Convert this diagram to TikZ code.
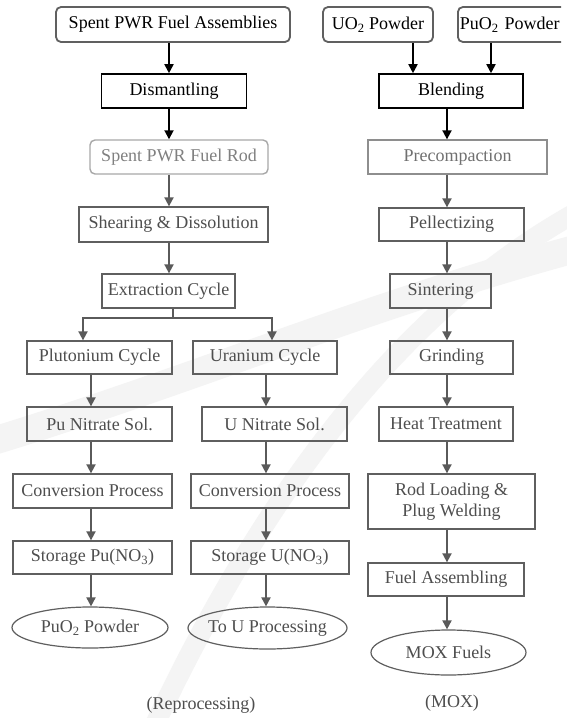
\documentclass[tikz,border=0pt]{standalone}
\usepackage{fontspec}
\setmainfont{Liberation Serif}
\usetikzlibrary{arrows.meta,shapes.geometric}

\definecolor{topgray}{HTML}{606060}
\definecolor{faintline}{HTML}{A8A8A8}
\definecolor{fainttext}{HTML}{808080}
\definecolor{paleline}{HTML}{8E8E8E}
\definecolor{paletext}{HTML}{707070}
\definecolor{boxgray}{HTML}{5F5F5F}
\definecolor{textgray}{HTML}{4E4E4E}
\definecolor{linegray}{HTML}{5A5A5A}
\definecolor{wmgray}{HTML}{F4F4F4}

\tikzset{
  base/.style={draw, inner sep=0pt, font=\fontsize{18}{21}\selectfont, align=center},
  topbox/.style={base, rounded corners=5pt, draw=topgray, line width=1.8pt, text=black},
  keybox/.style={base, draw=black, line width=1.6pt, text=black},
  faintbox/.style={base, rounded corners=5pt, draw=faintline, line width=1.4pt, text=fainttext},
  palebox/.style={base, draw=paleline, line width=1.3pt, text=paletext},
  procbox/.style={base, draw=boxgray, line width=1.3pt, text=textgray},
  endnode/.style={base, ellipse, draw=boxgray, line width=1.2pt, text=textgray},
  caption/.style={font=\fontsize{18}{21}\selectfont, text=textgray, inner sep=0pt},
  arr/.style={-{Triangle[length=9pt,width=9pt]}, line width=1.8pt, draw=linegray},
  blackarr/.style={arr, draw=black},
  plain/.style={line width=1.8pt, draw=linegray},
  watermark/.style={draw=wmgray, line cap=round}
}

\begin{document}
\begin{tikzpicture}[x=1pt,y=-1pt]
\useasboundingbox (0,0) rectangle (566,718);
\fill[white] (0,0) rectangle (566,718);

% faint background swooshes
\draw[watermark, line width=28pt] (-20,445) .. controls (180,385) and (380,300) .. (590,245);
\draw[watermark, line width=20pt] (150,735) .. controls (250,520) and (390,310) .. (590,205);

% column axes for the connectors
\coordinate (cL) at (169,0);
\coordinate (cS) at (173,0);
\coordinate (cP) at (91,0);
\coordinate (cPs) at (83,0);
\coordinate (cU) at (266,0);
\coordinate (cUs) at (272,0);
\coordinate (cR) at (447,0);
\coordinate (cA) at (413,0);
\coordinate (cB) at (491,0);
\coordinate (jn) at (173,318);

% ---------- reprocessing branch ----------
\node[topbox, minimum width=234pt, minimum height=35pt] (assem) at (173,24.5) {Spent PWR Fuel Assemblies};
\node[keybox, minimum width=145pt, minimum height=34pt] (dism) at (174,91) {Dismantling};
\node[faintbox, minimum width=178pt, minimum height=34pt] (rod) at (179,157) {Spent PWR Fuel Rod};
\node[procbox, minimum width=189pt, minimum height=35pt] (shear) at (173.5,224.5) {Shearing \& Dissolution};
\node[procbox, minimum width=133pt, minimum height=34pt] (extr) at (168.5,291) {Extraction Cycle};

\node[procbox, minimum width=145pt, minimum height=33pt] (pucyc) at (99.5,357.5) {Plutonium Cycle};
\node[procbox, minimum width=144pt, minimum height=33pt] (ucyc) at (265,357.5) {Uranium Cycle};
\node[procbox, minimum width=145pt, minimum height=34pt] (punit) at (99.5,424) {Pu Nitrate Sol.};
\node[procbox, minimum width=145pt, minimum height=34pt] (unit) at (274.5,424) {U Nitrate Sol.};
\node[procbox, minimum width=159pt, minimum height=34pt] (puconv) at (92.5,491) {Conversion Process};
\node[procbox, minimum width=158pt, minimum height=34pt] (uconv) at (270,491) {Conversion Process};
\node[procbox, minimum width=159pt, minimum height=33pt] (pustor) at (92.5,557.5) {Storage Pu(NO\textsubscript{3})};
\node[procbox, minimum width=158pt, minimum height=33pt] (ustor) at (270,557.5) {Storage U(NO\textsubscript{3})};
\node[endnode, minimum width=156pt, minimum height=41pt] (puend) at (90,627.5) {\makebox[0pt]{PuO\textsubscript{2} Powder}};
\node[endnode, minimum width=159pt, minimum height=42pt] (uend) at (267.5,628) {\makebox[0pt]{To U Processing}};

\node[caption] (lrep) at (201,705) {(Reprocessing)};

\draw[blackarr] (assem.south -| cL) -- (dism.north -| cL);
\draw[blackarr] (dism.south -| cL) -- (rod.north -| cL);
\draw[arr] (rod.south -| cL) -- (shear.north -| cL);
\draw[arr] (shear.south -| cL) -- (extr.north -| cL);
\draw[plain] (extr.south -| cS) -- (jn);
\draw[arr] (jn) -| (pucyc.north -| cPs);
\draw[arr] (jn) -| (ucyc.north -| cUs);

\draw[arr] (pucyc.south -| cP) -- (punit.north -| cP);
\draw[arr] (punit.south -| cP) -- (puconv.north -| cP);
\draw[arr] (puconv.south -| cP) -- (pustor.north -| cP);
\draw[arr] (pustor.south -| cP) -- (puend.north -| cP);

\draw[arr] (ucyc.south -| cU) -- (unit.north -| cU);
\draw[arr] (unit.south -| cU) -- (uconv.north -| cU);
\draw[arr] (uconv.south -| cU) -- (ustor.north -| cU);
\draw[arr] (ustor.south -| cU) -- (uend.north -| cU);

% ---------- MOX fabrication branch ----------
\node[topbox, minimum width=110pt, minimum height=35pt] (uo) at (378,24.5) {UO\textsubscript{2} Powder};
\begin{scope}
  % the right-hand feed box runs off the sheet edge
  \clip (0,0) rectangle (561,718);
  \node[topbox, anchor=west, text width=110pt, align=left, inner xsep=2pt, minimum height=35pt] (puo) at (457,24.5) {PuO\textsubscript{2} Powder};
\end{scope}
\node[keybox, minimum width=144pt, minimum height=34pt] (blend) at (451,91) {Blending};
\node[palebox, minimum width=179pt, minimum height=34pt] (precomp) at (457.5,157) {Precompaction};
\node[procbox, minimum width=145pt, minimum height=33pt] (pellet) at (451.5,224.5) {Pellectizing};
\node[procbox, minimum width=101pt, minimum height=34pt] (sinter) at (440.5,291) {Sintering};
\node[procbox, minimum width=123pt, minimum height=33pt] (grind) at (451.5,357.5) {Grinding};
\node[procbox, minimum width=134pt, minimum height=34pt] (heat) at (446,424) {Heat Treatment};
\node[procbox, minimum width=167pt, minimum height=55pt] (rodload) at (451.5,501.5) {Rod Loading \&\\Plug Welding};
\node[procbox, minimum width=156pt, minimum height=33pt] (assembl) at (446,579.5) {Fuel Assembling};
\node[endnode, minimum width=155pt, minimum height=45pt] (mox) at (448.5,652.5) {\makebox[0pt]{MOX Fuels}};

\node[caption] (lmox) at (452,703) {(MOX)};

\draw[blackarr] (uo.south -| cA) -- (blend.north -| cA);
\draw[blackarr] (puo.south -| cB) -- (blend.north -| cB);
\draw[blackarr] (blend.south -| cR) -- (precomp.north -| cR);
\draw[arr] (precomp.south -| cR) -- (pellet.north -| cR);
\draw[arr] (pellet.south -| cR) -- (sinter.north -| cR);
\draw[arr] (sinter.south -| cR) -- (grind.north -| cR);
\draw[arr] (grind.south -| cR) -- (heat.north -| cR);
\draw[arr] (heat.south -| cR) -- (rodload.north -| cR);
\draw[arr] (rodload.south -| cR) -- (assembl.north -| cR);
\draw[arr] (assembl.south -| cR) -- (mox.north -| cR);
\end{tikzpicture}
\end{document}
